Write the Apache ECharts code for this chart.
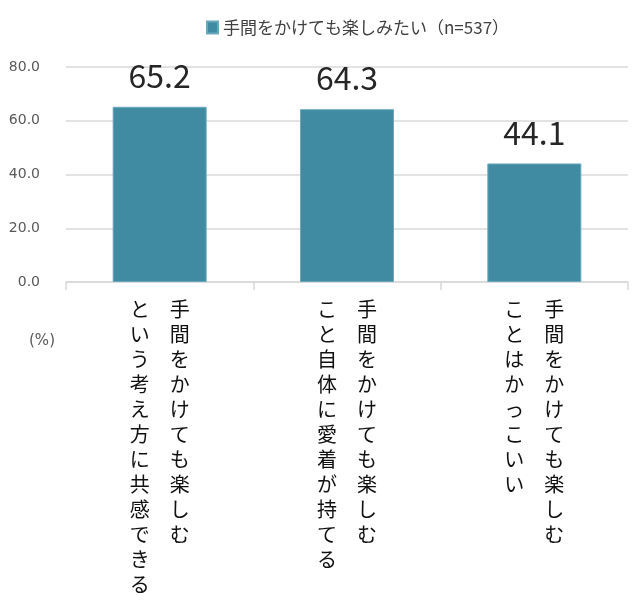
<!DOCTYPE html>
<html>
<head>
<meta charset="utf-8">
<script src="https://cdn.jsdelivr.net/npm/echarts@6/dist/echarts.min.js"></script>
<style>
  html, body { margin: 0; padding: 0; background: #fff; }
</style>
</head>
<body>
<div id="chart" style="width: 640px; height: 612px"></div>
<script>
// right column (first line) and left column (second line) of each vertical label
const labelFirst = ['手間をかけても楽しむ', '手間をかけても楽しむ', '手間をかけても楽しむ'];
const labelSecond = ['という考え方に共感できる', 'こと自体に愛着が持てる', 'ことはかっこいい'];
const seriesName = '手間をかけても楽しみたい（n=537）';
const values = [65.2, 64.3, 44.1];

const categories = labelFirst.map((a, i) => a + '|' + labelSecond[i]);

// build vertical (tategaki) text: each row = left char + gap + right char
function toVertical(label) {
  const [right, left] = label.split('|');
  const n = Math.max(right.length, left.length);
  const rows = [];
  for (let i = 0; i < n; i++) {
    rows.push((left[i] || '　') + '　' + (right[i] || '　'));
  }
  return rows.join('\n');
}

const font = '"Noto Sans CJK JP", "Noto Sans", sans-serif';
const chart = echarts.init(document.getElementById('chart'));

chart.setOption({
  textStyle: { fontFamily: font },
  legend: {
    top: 14,
    left: 201,
    itemWidth: 11,
    itemHeight: 12,
    itemGap: 5,
    textStyle: { fontSize: 17, color: '#404040', fontFamily: font },
    data: [{ name: seriesName, icon: 'rect' }]
  },
  grid: {
    left: 66,
    right: 12,
    top: 67,
    bottom: 330
  },
  xAxis: {
    type: 'category',
    data: categories,
    axisLine: { lineStyle: { color: '#d9d9d9', width: 1.5 } },
    axisTick: { show: true, length: 8, lineStyle: { color: '#d9d9d9', width: 1.5 } },
    axisLabel: {
      margin: 15,
      fontSize: 20,
      lineHeight: 25,
      color: '#111',
      fontFamily: font,
      align: 'center',
      formatter: toVertical
    }
  },
  yAxis: {
    type: 'value',
    min: 0,
    max: 80,
    interval: 20,
    name: '(%)',
    nameLocation: 'start',
    nameGap: 52,
    nameTextStyle: { fontSize: 15, color: '#595959', padding: [0, 48, 0, 0], fontFamily: '"DejaVu Sans", sans-serif' },
    axisLine: { show: false },
    axisTick: { show: false },
    axisLabel: {
      margin: 26,
      fontSize: 14,
      color: '#595959',
      fontFamily: '"DejaVu Sans", sans-serif',
      formatter: v => v.toFixed(1)
    },
    splitLine: { lineStyle: { color: '#d9d9d9', width: 1.5 } }
  },
  series: [
    {
      name: seriesName,
      type: 'bar',
      data: values,
      barWidth: 94,
      itemStyle: { color: '#408ba2', borderColor: '#6aa9bd', borderWidth: 1 },
      label: {
        show: true,
        position: 'top',
        distance: 15,
        fontSize: 32,
        color: '#262626',
        fontFamily: font,
        formatter: p => p.value.toFixed(1)
      }
    }
  ]
});
</script>
</body>
</html>
